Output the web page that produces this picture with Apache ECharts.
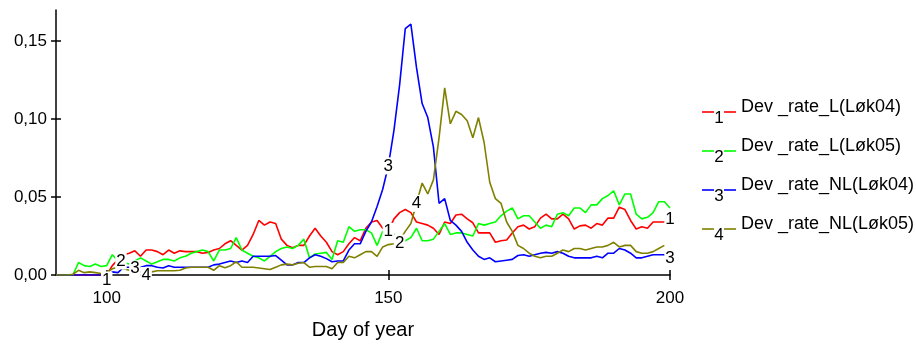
<!DOCTYPE html>
<html>
<head>
<meta charset="utf-8">
<script src="https://cdn.jsdelivr.net/npm/echarts@6/dist/echarts.min.js"></script>
<style>
  html, body { margin: 0; padding: 0; background: #fff; }
  #chart { width: 916px; height: 347px; }
</style>
</head>
<body>
<div id="chart"></div>
<script>
// Day of year for every daily sample (91 .. 200)
const days = [];
for (let d = 91; d <= 200; d++) days.push(d);

// Development rates, one value per day
const devRateL04 = [
  0, 0, 0, 0, 0, 0, 0, 0, 0, 0,
  0.006, 0.010, 0.013, 0.014, 0.0155, 0.012, 0.016, 0.016, 0.015, 0.013,
  0.016, 0.014, 0.0155, 0.015, 0.015, 0.015, 0.014, 0.0145, 0.016, 0.017,
  0.020, 0.022, 0.019, 0.016, 0.019, 0.026, 0.035, 0.032, 0.034, 0.033,
  0.023, 0.019, 0.0175, 0.019, 0.019, 0.025, 0.030, 0.025, 0.021, 0.015,
  0.013, 0.015, 0.020, 0.024, 0.022, 0.030, 0.034, 0.035, 0.030, 0.028,
  0.036, 0.040, 0.042, 0.040, 0.034, 0.033, 0.032, 0.030, 0.026, 0.034,
  0.033, 0.0385, 0.039, 0.036, 0.0335, 0.027, 0.027, 0.027, 0.021, 0.022,
  0.0225, 0.027, 0.031, 0.032, 0.0295, 0.031, 0.0365, 0.039, 0.036, 0.036,
  0.039, 0.036, 0.0295, 0.0315, 0.032, 0.030, 0.033, 0.032, 0.0365, 0.0365,
  0.0435, 0.042, 0.035, 0.0295, 0.031, 0.030, 0.034, 0.034, 0.034, 0.036
];
const devRateL05 = [
  0, 0, 0, 0, 0.008, 0.006, 0.0055, 0.007, 0.0055, 0.006,
  0.013, 0.009, 0.008, 0.007, 0.009, 0.011, 0.009, 0.007, 0.0085, 0.010,
  0.010, 0.009, 0.011, 0.012, 0.014, 0.015, 0.016, 0.015, 0.009, 0.016,
  0.016, 0.017, 0.024, 0.016, 0.014, 0.012, 0.011, 0.009, 0.012, 0.015,
  0.017, 0.018, 0.017, 0.019, 0.023, 0.011, 0.0135, 0.014, 0.0145, 0.010,
  0.022, 0.021, 0.031, 0.028, 0.029, 0.029, 0.027, 0.019, 0.028, 0.030,
  0.026, 0.0205, 0.022, 0.024, 0.030, 0.022, 0.022, 0.023, 0.028, 0.033,
  0.026, 0.027, 0.027, 0.026, 0.025, 0.033, 0.032, 0.033, 0.034, 0.038,
  0.041, 0.043, 0.036, 0.038, 0.038, 0.034, 0.030, 0.032, 0.031, 0.039,
  0.040, 0.038, 0.043, 0.043, 0.040, 0.045, 0.045, 0.049, 0.051, 0.054,
  0.045, 0.052, 0.052, 0.039, 0.036, 0.037, 0.040, 0.047, 0.047, 0.043
];
const devRateNL04 = [
  0, 0, 0, 0, 0, 0, 0, 0, 0, 0,
  0.002, 0.0015, 0.005, 0.005, 0.004, 0.005, 0.006, 0.006, 0.005, 0.0045,
  0.006, 0.005, 0.005, 0.005, 0.005, 0.005, 0.005, 0.005, 0.0065, 0.007,
  0.008, 0.009, 0.008, 0.009, 0.008, 0.012, 0.012, 0.012, 0.012, 0.0125,
  0.0095, 0.0065, 0.0065, 0.008, 0.008, 0.011, 0.013, 0.012, 0.0105, 0.0085,
  0.009, 0.009, 0.016, 0.020, 0.020, 0.028, 0.034, 0.044, 0.055, 0.070,
  0.093, 0.122, 0.158, 0.161, 0.133, 0.110, 0.101, 0.082, 0.046, 0.049,
  0.035, 0.032, 0.028, 0.021, 0.016, 0.012, 0.010, 0.011, 0.0085, 0.009,
  0.0095, 0.010, 0.0125, 0.013, 0.012, 0.013, 0.014, 0.0145, 0.014, 0.015,
  0.014, 0.012, 0.011, 0.011, 0.011, 0.011, 0.012, 0.011, 0.014, 0.014,
  0.017, 0.016, 0.014, 0.011, 0.011, 0.012, 0.013, 0.013, 0.013, 0.011
];
const devRateNL05 = [
  0, 0, 0, 0.0005, 0.003, 0.0015, 0.002, 0.0015, 0.001, 0.0015,
  0.004, 0.005, 0.004, 0.003, 0.002, 0.002, 0.001, 0.002, 0.0027, 0.0027,
  0.0027, 0.0027, 0.003, 0.0045, 0.005, 0.005, 0.005, 0.005, 0.003, 0.006,
  0.0047, 0.006, 0.0085, 0.005, 0.005, 0.005, 0.0045, 0.004, 0.0035, 0.005,
  0.0065, 0.007, 0.0065, 0.0075, 0.008, 0.005, 0.0055, 0.0055, 0.0055, 0.004,
  0.008, 0.008, 0.012, 0.011, 0.013, 0.015, 0.015, 0.012, 0.018, 0.0195,
  0.020, 0.022, 0.028, 0.033, 0.046, 0.059, 0.052, 0.061, 0.088, 0.120,
  0.097, 0.105, 0.103, 0.099, 0.088, 0.101, 0.085, 0.0595, 0.049, 0.046,
  0.034, 0.028, 0.019, 0.017, 0.014, 0.012, 0.011, 0.012, 0.012, 0.014,
  0.016, 0.015, 0.017, 0.017, 0.016, 0.017, 0.018, 0.018, 0.019, 0.021,
  0.018, 0.019, 0.019, 0.015, 0.014, 0.014, 0.015, 0.017, 0.019, null
];

const seriesNames = ['Dev _rate_L(Løk04)', 'Dev _rate_L(Løk05)', 'Dev _rate_NL(Løk04)', 'Dev _rate_NL(Løk05)'];
const seriesTags = ['1', '2', '3', '4'];
const seriesColors = ['#ff0000', '#00ff00', '#0000ff', '#808000'];
const seriesValues = [devRateL04, devRateL05, devRateNL04, devRateNL05];
// Days on which each curve carries its number tag
const tagDays = [[100, 150, 200], [102, 152], [105, 150, 200], [107, 155]];
const tagOffsets = { '0-100': [0, 5], '1-102': [3, 0], '3-107': [0, 2] };

const xTicks = [100, 150, 200];
const yTicks = [0, 0.05, 0.10, 0.15];

const FONT = 'Liberation Sans, Arial, sans-serif';

const chart = echarts.init(document.getElementById('chart'), null, { renderer: 'canvas' });

const series = seriesValues.map((vals, si) => ({
  name: seriesNames[si],
  type: 'line',
  xAxisIndex: 0,
  yAxisIndex: 0,
  showSymbol: true,
  symbol: 'circle',
  symbolSize: 0,
  silent: true,
  lineStyle: { color: seriesColors[si], width: 1.6 },
  itemStyle: { color: seriesColors[si] },
  z: 2,
  data: days.map((d, i) => {
    const v = vals[i];
    if (v === null) return [d, null];
    if (tagDays[si].indexOf(d) >= 0) {
      return {
        value: [d, v],
        label: {
          show: true,
          formatter: seriesTags[si],
          position: 'inside',
          offset: tagOffsets[si + '-' + d] || [0, 0],
          color: '#000',
          fontFamily: FONT,
          fontSize: 17,
          backgroundColor: '#fff',
          padding: [0, 1]
        }
      };
    }
    return [d, v];
  })
}));

// Legend drawn as line samples with the curve number set in the gap
const legendGraphics = [];
seriesNames.forEach((name, i) => {
  const y = 112 + i * 39;
  legendGraphics.push(
    { type: 'line', shape: { x1: 702, y1: y, x2: 714, y2: y }, style: { stroke: seriesColors[i], lineWidth: 1.6 } },
    { type: 'line', shape: { x1: 724, y1: y, x2: 736, y2: y }, style: { stroke: seriesColors[i], lineWidth: 1.6 } },
    { type: 'text', x: 719, y: y + 6, style: { text: seriesTags[i], fill: '#000', font: '17px ' + FONT, align: 'center', verticalAlign: 'middle' } },
    { type: 'text', x: 741, y: y - 5, style: { text: name, fill: '#000', font: '18px ' + FONT, align: 'left', verticalAlign: 'middle' } }
  );
});

const axisCommon = {
  axisLine: { show: false },
  axisLabel: { show: false },
  splitLine: { show: false }
};

chart.setOption({
  animation: false,
  backgroundColor: '#fff',
  grid: { left: 56, right: 246, top: 10, bottom: 72, containLabel: false },
  xAxis: [
    {
      type: 'value', min: 91, max: 200, position: 'bottom',
      name: 'Day of year', nameLocation: 'middle', nameGap: 45,
      nameTextStyle: { color: '#000', fontFamily: FONT, fontSize: 20 },
      axisLine: { show: true, lineStyle: { color: '#000', width: 1.5 } },
      axisTick: { show: true, length: 5, lineStyle: { color: '#000', width: 1.5 }, customValues: xTicks },
      axisLabel: { show: true, color: '#000', fontFamily: FONT, fontSize: 17, margin: 15, customValues: xTicks },
      splitLine: { show: false }
    },
    Object.assign({
      type: 'value', min: 91, max: 200, position: 'bottom',
      axisTick: { show: true, inside: true, length: 5, lineStyle: { color: '#000', width: 1.5 }, customValues: xTicks }
    }, axisCommon)
  ],
  yAxis: [
    {
      type: 'value', min: 0, max: 0.17, position: 'left',
      axisLine: { show: true, lineStyle: { color: '#000', width: 1.5 } },
      axisTick: { show: true, length: 5, lineStyle: { color: '#000', width: 1.5 }, customValues: yTicks },
      axisLabel: {
        show: true, color: '#000', fontFamily: FONT, fontSize: 17, margin: 9, customValues: yTicks,
        formatter: v => v.toFixed(2).replace('.', ',')
      },
      splitLine: { show: false }
    },
    Object.assign({
      type: 'value', min: 0, max: 0.17, position: 'left',
      axisTick: { show: true, inside: true, length: 5, lineStyle: { color: '#000', width: 1.5 }, customValues: yTicks }
    }, axisCommon)
  ],
  series: series,
  graphic: legendGraphics
});
</script>
</body>
</html>
